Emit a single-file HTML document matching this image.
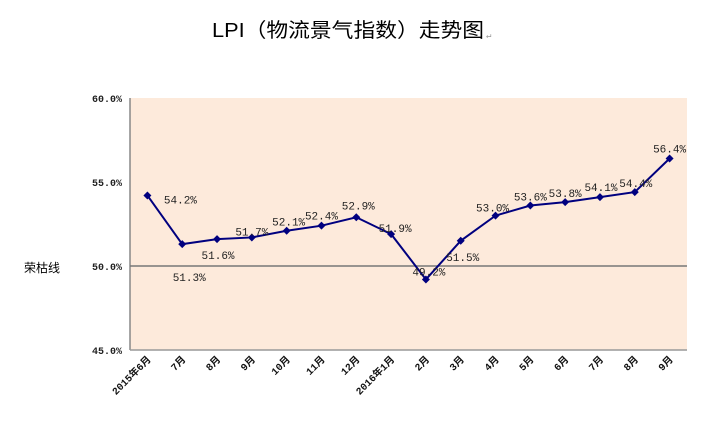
<!DOCTYPE html>
<html><head><meta charset="utf-8"><style>
body{margin:0;background:#fff;}
svg{display:block;font-family:"Liberation Mono","Noto Sans CJK SC",monospace;}
</style></head><body>
<svg width="727" height="432" viewBox="0 0 727 432" xmlns="http://www.w3.org/2000/svg">
<text x="212" y="37" font-size="20" textLength="272" lengthAdjust="spacingAndGlyphs" font-family="'Liberation Sans','Noto Sans CJK SC',sans-serif">LPI（物流景气指数）走势图</text>
<text x="486" y="38" font-size="9" fill="#999">↵</text>
<rect x="130" y="98" width="557" height="252" fill="#fdeadb"/>
<line x1="130" y1="98" x2="130" y2="350" stroke="#888" stroke-width="1.5"/>
<line x1="130" y1="350" x2="687" y2="350" stroke="#999" stroke-width="1.5"/>
<g id="yticks"></g>
<line id="ref" stroke="#777" stroke-width="1.5"/>
<text x="24" y="272" font-size="12" font-family="'Liberation Sans','Noto Sans CJK SC',sans-serif">荣枯线</text>
<g id="series"></g>
<g id="xlabels"></g>
</svg>
<script>
const categories=["2015年6月","7月","8月","9月","10月","11月","12月","2016年1月","2月","3月","4月","5月","6月","7月","8月","9月"];
const values=[54.2,51.3,51.6,51.7,52.1,52.4,52.9,51.9,49.2,51.5,53.0,53.6,53.8,54.1,54.4,56.4];
const yTicks=[45,50,55,60];
const refValue=50;
const labelDx=[33,7,1,0,2,0,2,4,3,2,-3,0,0,1,1,0];
const labelDy=[4,33,16,-6,-9,-10,-12,-6,-8,16,-8,-9,-9,-10,-9,-10];
const NS="http://www.w3.org/2000/svg";
const X0=130,X1=687,Y0=350,Y1=98,YMIN=45,YMAX=60;
const bw=(X1-X0)/categories.length;
function xs(i){return X0+(i+0.5)*bw;}
function ys(v){return Y0-(v-YMIN)/(YMAX-YMIN)*(Y0-Y1);}
function mk(t,a,p){const e=document.createElementNS(NS,t);for(const k in a)e.setAttribute(k,a[k]);p.appendChild(e);return e;}
const yt=document.getElementById('yticks');
yTicks.forEach(v=>{const t=mk('text',{x:122,y:ys(v)+4,'font-size':10,'font-weight':'bold','text-anchor':'end',fill:'#222'},yt);


t.textContent=v.toFixed(1)+'%';});
const ref=document.getElementById('ref');
ref.setAttribute('x1',X0);ref.setAttribute('x2',X1);ref.setAttribute('y1',ys(refValue));ref.setAttribute('y2',ys(refValue));
const sg=document.getElementById('series');
const line=mk('polyline',{points:values.map((v,i)=>xs(i)+','+ys(v)).join(' '),fill:'none',stroke:'#00007f','stroke-width':2},sg);


values.forEach((v,i)=>{const x=xs(i),y=ys(v);
const m=mk('polygon',{points:`${x},${y-4} ${x+4},${y} ${x},${y+4} ${x-4},${y}`,fill:'#00007f'},sg);


const t=mk('text',{x:x+labelDx[i],y:y+labelDy[i]+4,'font-size':11,'text-anchor':'middle',fill:'#222'},sg);


t.textContent=v.toFixed(1)+'%';});
const xl=document.getElementById('xlabels');
categories.forEach((c,i)=>{const x=xs(i)+4,y=360;
const t=mk('text',{x:x,y:y,'font-size':10,'font-weight':'bold','text-anchor':'end',transform:`rotate(-45 ${x} ${y})`,fill:'#111'},xl);


t.textContent=c;});
</script>
</body></html>
